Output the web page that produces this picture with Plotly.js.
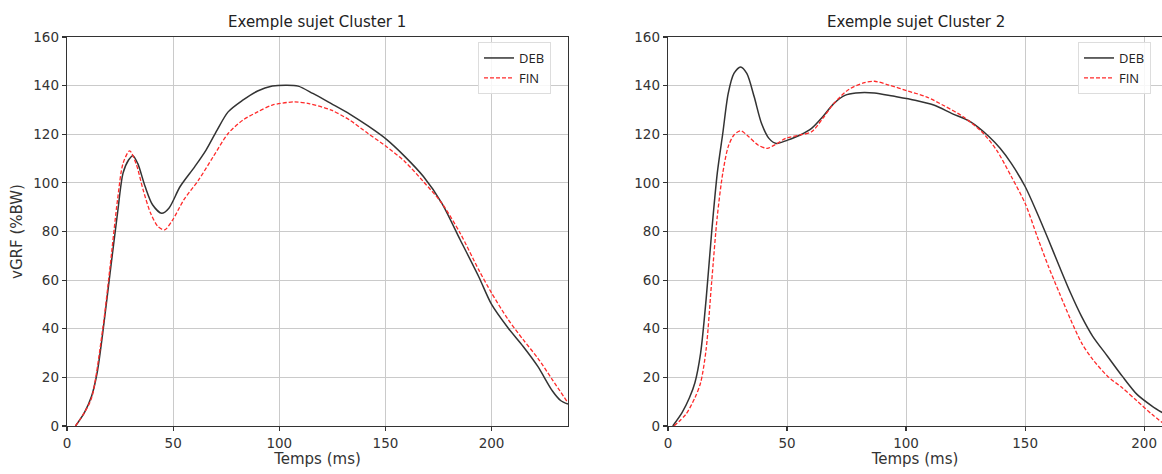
<!DOCTYPE html>
<html>
<head>
<meta charset="utf-8">
<script src="https://cdn.plot.ly/plotly-3.0.1.min.js"></script>
<style>html,body{margin:0;padding:0;background:#fff;}#chart{width:1162px;height:474px;}</style>
</head>
<body>
<div id="chart"></div>
<script>
// Cluster 1
const c1_deb_t = [4, 8.2, 11.6, 14.2, 16.8, 20.3, 23.8, 26.4, 29, 31, 33.3, 36.8, 40.3, 44.6, 48, 53.3, 60.2, 65.5, 70.7, 75.9, 82.8, 89.8, 96.7, 103.6, 108.9, 115.8, 124.5, 133.2, 141.8, 150.5, 159.2, 167.9, 176.6, 185.2, 193.9, 200, 207.8, 214.8, 221.7, 228.6, 232.5, 236];
const c1_deb_v = [0, 5.5, 12.3, 21.9, 38, 63, 87.5, 104, 109.4, 111.2, 108, 98.5, 91, 87.5, 89.6, 98.5, 106.7, 113.5, 121.7, 129.2, 134, 137.8, 139.8, 140.2, 139.8, 136.8, 132.6, 128.3, 123.4, 117.9, 110.8, 102.6, 91.6, 76.6, 61.5, 50, 40.3, 32.8, 24.6, 14.5, 10.5, 9];
const c1_fin_t = [4, 8.2, 11.6, 16.8, 20.3, 23.8, 26.4, 29.5, 32.5, 35.9, 39.4, 42.9, 46, 49.8, 55, 62, 68.9, 75.9, 82.8, 89.8, 96.7, 107.1, 114, 124.5, 133.2, 141.8, 150.5, 159.2, 167.9, 176.6, 185.2, 193.9, 200, 207.8, 214.8, 221.7, 228.6, 236];
const c1_fin_v = [0, 5.5, 11.6, 39.7, 65.6, 93, 108, 113.2, 108, 97, 87.5, 82, 80.7, 84.8, 93, 101.2, 110.8, 120.3, 125.8, 129.2, 132, 133.3, 132.6, 129.9, 125.8, 120.3, 114.9, 108.7, 100.5, 91.6, 79.3, 64.3, 54.7, 43.8, 35.6, 28, 19.1, 9.5];

// Cluster 2
const c2_deb_t = [2, 5.9, 9, 11.3, 13.7, 16, 18.3, 20.7, 23, 25.3, 27.7, 30.5, 33.1, 36.2, 39.3, 42.4, 45.5, 50.2, 55.6, 60.3, 65, 69.6, 74.3, 78.9, 86.7, 94.5, 103.8, 111.6, 119.3, 127.1, 134.9, 139.5, 144.2, 150, 155.1, 159.8, 164.4, 169.1, 173.7, 178.4, 184.6, 190.8, 197, 203.3, 207.6];
const c2_deb_v = [0, 5.5, 11.6, 17.8, 30, 52, 79.3, 104, 120.3, 136.8, 145, 147.7, 145, 135.4, 124.4, 118.3, 116.2, 117.6, 119.7, 122.4, 127.2, 132.6, 136, 137, 137, 135.7, 134, 132, 128.5, 125.1, 119, 114.2, 108, 98.5, 87.5, 76.6, 65.6, 54.7, 45.1, 36.9, 28.7, 20.5, 13, 8.2, 5.5];
const c2_fin_t = [2.5, 7.5, 11.3, 13.7, 16, 18.3, 20.7, 23, 25.3, 27.7, 30.5, 33.9, 37.8, 41.6, 45.5, 49.4, 55.6, 60.3, 65, 69.6, 75.9, 82.1, 86.7, 92.9, 100.7, 108.5, 116.2, 124, 131.8, 138, 144.2, 150, 155.1, 159.8, 164.4, 169.1, 173.7, 178.4, 184.6, 190.8, 197, 203.3, 207.6];
const c2_fin_v = [0, 4.8, 11.6, 17.8, 31.4, 58.8, 86.2, 104, 114.9, 119.7, 121.4, 119, 115.6, 114.2, 116, 118.3, 119.7, 121, 126.5, 132.6, 138.4, 141.1, 141.8, 140.2, 137.8, 135.4, 131.6, 127.2, 121, 113.5, 102.6, 91.6, 77.9, 65.6, 54.7, 43.8, 34.2, 27.4, 20.5, 15.7, 10.3, 4.8, 1.4];

const titles = ["Exemple sujet Cluster 1", "Exemple sujet Cluster 2"];
const seriesNames = ["DEB", "FIN"];
const xTitle = "Temps (ms)";
const yTitle = "vGRF (%BW)";
const xTicks = [0, 50, 100, 150, 200];
const yTicks = [0, 20, 40, 60, 80, 100, 120, 140, 160];

const debLine = {color: '#333333', width: 1.5, shape: 'spline', smoothing: 0.8};
const finLine = {color: '#ff2a2a', width: 1.3, dash: '4px,2px', shape: 'spline', smoothing: 0.8};

const traces = [
  {x: c1_deb_t, y: c1_deb_v, name: seriesNames[0], mode: 'lines', line: debLine, xaxis: 'x', yaxis: 'y', legend: 'legend'},
  {x: c1_fin_t, y: c1_fin_v, name: seriesNames[1], mode: 'lines', line: finLine, xaxis: 'x', yaxis: 'y', legend: 'legend'},
  {x: c2_deb_t, y: c2_deb_v, name: seriesNames[0], mode: 'lines', line: debLine, xaxis: 'x2', yaxis: 'y2', legend: 'legend2'},
  {x: c2_fin_t, y: c2_fin_v, name: seriesNames[1], mode: 'lines', line: finLine, xaxis: 'x2', yaxis: 'y2', legend: 'legend2'}
];

const tickFont = {family: 'DejaVu Sans', size: 13.5, color: '#333'};
const labFont = {family: 'DejaVu Sans', size: 15, color: '#333'};
const axBase = {
  showline: true, linecolor: '#333', linewidth: 1.3, mirror: true,
  showgrid: true, gridcolor: '#cacaca', gridwidth: 1,
  ticks: 'outside', ticklen: 4, tickcolor: '#333', tickwidth: 1.2,
  tickfont: tickFont, zeroline: false
};
const yDom = [1 - 426/474, 1 - 37/474];

const legBase = {
  bgcolor: 'rgba(255,255,255,0.85)', bordercolor: '#dddddd', borderwidth: 1,
  font: {family: 'Open Sans', size: 13, color: '#222'},
  xanchor: 'left', yanchor: 'top', tracegroupgap: 0, itemwidth: 30
};

const layout = {
  width: 1162, height: 474,
  margin: {l: 0, r: 0, t: 0, b: 0},
  paper_bgcolor: '#fff', plot_bgcolor: '#fff',
  xaxis: Object.assign({}, axBase, {domain: [67/1162, 568/1162], range: [0, 236], tickvals: xTicks, anchor: 'y',
    title: {text: xTitle, font: labFont, standoff: 4}}),
  yaxis: Object.assign({}, axBase, {domain: yDom, range: [0, 160], tickvals: yTicks, anchor: 'x',
    title: {text: yTitle, font: labFont, standoff: 7}}),
  xaxis2: Object.assign({}, axBase, {domain: [668/1162, 1], range: [0, 207.5], tickvals: xTicks, anchor: 'y2',
    title: {text: xTitle, font: labFont, standoff: 4}}),
  yaxis2: Object.assign({}, axBase, {domain: yDom, range: [0, 160], tickvals: yTicks, anchor: 'x2'}),
  legend: Object.assign({}, legBase, {x: 478/1162, y: 1 - 42/474}),
  legend2: Object.assign({}, legBase, {x: 1078/1162, y: 1 - 42/474}),
  annotations: [
    {text: titles[0], xref: 'paper', yref: 'paper', x: 317/1162, y: 1 - 22/474, xanchor: 'center', yanchor: 'middle', showarrow: false,
     font: {family: 'DejaVu Sans', size: 15, color: '#222'}},
    {text: titles[1], xref: 'paper', yref: 'paper', x: 916/1162, y: 1 - 22/474, xanchor: 'center', yanchor: 'middle', showarrow: false,
     font: {family: 'DejaVu Sans', size: 15, color: '#222'}}
  ],
  showlegend: true
};

Plotly.newPlot('chart', traces, layout, {displayModeBar: false, staticPlot: true});
</script>
</body>
</html>
